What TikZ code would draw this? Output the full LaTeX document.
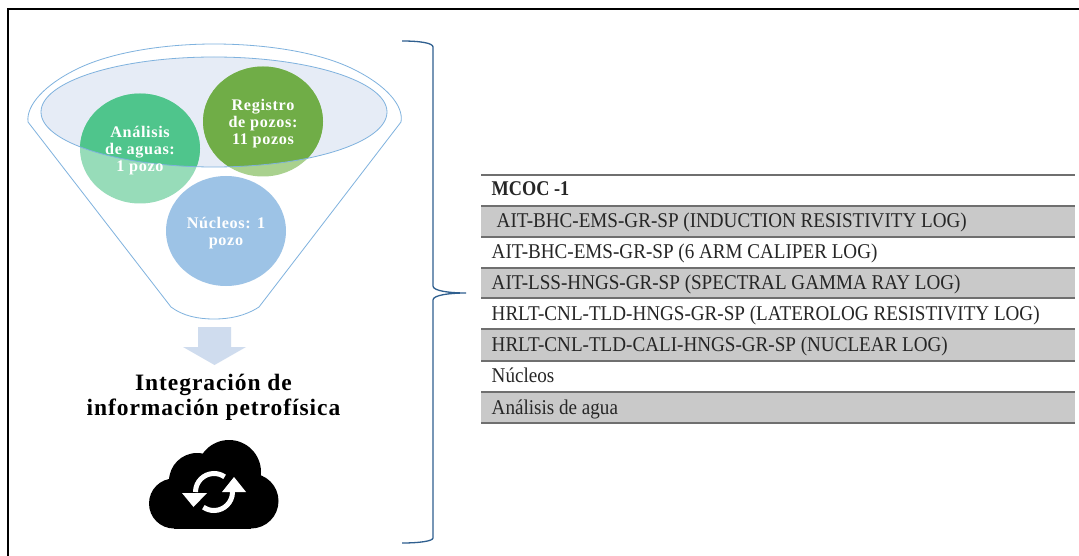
\documentclass[tikz,border=0pt]{standalone}
\usepackage{fontspec}
\setmainfont{Liberation Serif}
\definecolor{funline}{HTML}{7FB2DE}
\definecolor{funfill}{HTML}{E6ECF6}
\definecolor{gdark}{HTML}{4FC58C}
\definecolor{glight}{HTML}{97DCB9}
\definecolor{rdark}{HTML}{70AD47}
\definecolor{rlight}{HTML}{A9D18E}
\definecolor{nblue}{HTML}{9DC3E6}
\definecolor{arrowfill}{HTML}{CFDCEE}
\definecolor{bracecol}{HTML}{2F5F8F}
\definecolor{rowgrey}{HTML}{C9C9C9}
\definecolor{ruleg}{HTML}{6F6F6F}
\tikzset{
  funnelline/.style={draw=funline,line width=0.8pt},
  bubble/.style={font=\bfseries\fontsize{16.2}{17}\selectfont\addfontfeature{LetterSpace=4},text=white,align=center,inner sep=0pt},
  rowtext/.style={anchor=base west,inner sep=0pt,font=\fontsize{21}{22}\selectfont\addfontfeature{FakeStretch=0.91},text=black!85},
  rowband/.style={fill=rowgrey,draw=none},
  rowrule/.style={draw=ruleg,line width=1.1pt},
  headline/.style={font=\bfseries\fontsize{23.5}{25}\selectfont\addfontfeature{LetterSpace=4},align=center,inner sep=0pt,text=black}
}
\begin{document}
\begin{tikzpicture}[x=1pt,y=-1pt]
\useasboundingbox (0,0) rectangle (1079,556);
\fill[white] (0,0) rectangle (1079,556);
% frame
\draw[black,line width=2pt] (8,556) -- (8,9.5) -- (1079,9.5);
% funnel
\draw[funnelline] (28,122) .. controls (26,105) and (45,85) .. (75,70)
  .. controls (110,52) and (165,44) .. (214,44)
  .. controls (265,44) and (320,52) .. (355,70)
  .. controls (385,85) and (404,105) .. (401,122)
  -- (259,307) .. controls (245,316) and (230,319) .. (214,319)
  .. controls (198,319) and (183,316) .. (171,307) -- cycle;
% inner ellipse
\fill[funfill] (214,112) ellipse [x radius=173,y radius=55];
% circles, lighter below the ellipse
\fill[glight] (140,148.5) ellipse [x radius=60,y radius=55];
\fill[rlight] (263,121.5) ellipse [x radius=60,y radius=55];
\begin{scope}
\clip (214,112) ellipse [x radius=173,y radius=55];
\fill[gdark] (140,148.5) ellipse [x radius=60,y radius=55];
\fill[rdark] (263,121.5) ellipse [x radius=60,y radius=55];
\end{scope}
\draw[funnelline] (214,112) ellipse [x radius=173,y radius=55];
\fill[nblue] (226,231) ellipse [x radius=60,y radius=55];
\node[bubble] (analisis) at (140,150.5) {Análisis\\de aguas:\\1 pozo};
\node[bubble] (registro) at (263,123.5) {Registro\\de pozos:\\11 pozos};
\node[bubble] (nucleos) at (226,233) {Núcleos: 1\\pozo};
% arrow
\fill[arrowfill] (198,327) -- (231,327) -- (231,347) -- (246,347) -- (214.5,365) -- (183,347) -- (198,347) -- cycle;
\node[headline] (titulo) at (213.5,397) {Integración de\\información petrofísica};
% cloud
\fill[black] (229,472) circle [radius=32];
\fill[black] (197,481) circle [radius=28];
\fill[black] (174,503.5) circle [radius=25];
\fill[black] (251,501) circle [radius=27.5];
\fill[black] (174,480) rectangle (251,528.5);
% sync
\draw[white,line width=5pt] (195.5,492) arc [start angle=180,end angle=305,radius=18.5];
\draw[white,line width=5pt] (232.5,492) arc [start angle=0,end angle=125,radius=18.5];
\fill[white] (182,493) -- (207,493) -- (193.5,507) -- cycle;
\fill[white] (246,492) -- (222,492) -- (234,477) -- cycle;
% brace
\draw[bracecol,line width=1.3pt] (402,41) .. controls (420,41) and (433,43) .. (433,47)
  -- (433,286) .. controls (433,291) and (450,293) .. (466,293)
  .. controls (450,293) and (433,295) .. (433,300)
  -- (433,538) .. controls (433,541) and (420,543) .. (402,543);
% table
\fill[rowband] (481,206) rectangle (1075,237);
\fill[rowband] (481,268) rectangle (1075,298);
\fill[rowband] (481,329) rectangle (1075,361);
\fill[rowband] (481,392) rectangle (1075,423);
\foreach \yy in {175,206,237,268,298,329,361,392,423}{
  \draw[rowrule] (481,\yy) -- (1075,\yy);
}
\node[rowtext,font=\bfseries\fontsize{21}{22}\selectfont\addfontfeature{FakeStretch=0.87}] (r1) at (491.5,196) {MCOC -1};
\node[rowtext] (r2) at (496.5,227.5) {AIT-BHC-EMS-GR-SP (INDUCTION RESISTIVITY LOG)};
\node[rowtext] (r3) at (491.5,258.5) {AIT-BHC-EMS-GR-SP (6 ARM CALIPER LOG)};
\node[rowtext] (r4) at (491.5,289.5) {AIT-LSS-HNGS-GR-SP (SPECTRAL GAMMA RAY LOG)};
\node[rowtext] (r5) at (491.5,320) {HRLT-CNL-TLD-HNGS-GR-SP (LATEROLOG RESISTIVITY LOG)};
\node[rowtext] (r6) at (491.5,351.5) {HRLT-CNL-TLD-CALI-HNGS-GR-SP (NUCLEAR LOG)};
\node[rowtext] (r7) at (491.5,382) {Núcleos};
\node[rowtext] (r8) at (491.5,414) {Análisis de agua};
\end{tikzpicture}
\end{document}
